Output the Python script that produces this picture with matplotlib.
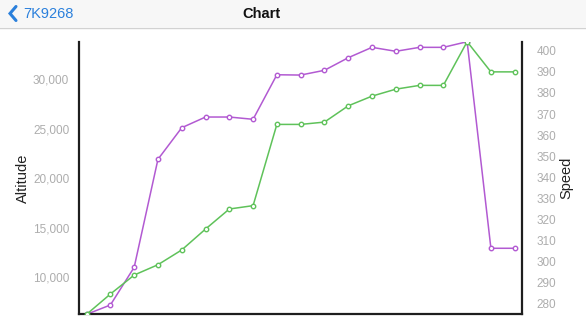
import matplotlib
matplotlib.use("Agg")
import matplotlib.pyplot as plt
from matplotlib.lines import Line2D
from matplotlib.patches import Rectangle
from matplotlib.ticker import StrMethodFormatter

plt.rcParams['font.family'] = ['Liberation Sans', 'DejaVu Sans']

# flight samples
samples = list(range(19))
altitude = [6260, 7200, 11010, 21920, 25110, 26190, 26190, 25960, 30460,
            30430, 30910, 32180, 33230, 32830, 33230, 33230, 33800, 12930,
            12930]
speed = [275.1, 284.7, 293.7, 298.6, 305.6, 315.5, 325.0, 326.6, 365.1,
         365.1, 366.2, 373.9, 378.5, 381.8, 383.6, 383.6, 404.3, 390.0,
         390.0]
alt_ticks = [10000, 15000, 20000, 25000, 30000]
speed_ticks = list(range(280, 401, 10))

purple = '#b25ad2'
green = '#5fc25a'
tick_grey = '#adadad'
ios_blue = '#2b80dc'

W, H = 586, 329
fig = plt.figure(figsize=(W / 100, H / 100), dpi=100)
fig.patch.set_facecolor('white')

# nav bar
fig.add_artist(Rectangle((0, 1 - 27 / H), 1, 27 / H, transform=fig.transFigure,
                         facecolor='#f7f7f7', edgecolor='none'))
fig.add_artist(Line2D([0, 1], [1 - 27.5 / H] * 2, transform=fig.transFigure,
                      color='#d2d2d2', lw=1))
fig.add_artist(Line2D([16 / W, 10 / W, 16 / W],
                      [1 - 6.5 / H, 1 - 13.5 / H, 1 - 20.5 / H],
                      transform=fig.transFigure, color=ios_blue, lw=2.2,
                      solid_capstyle='round', solid_joinstyle='miter'))
fig.text(23 / W, 1 - 13.5 / H, "7K9268", color=ios_blue, fontsize=10.5,
         ha='left', va='center')
fig.text(261 / W, 1 - 13.5 / H, "Chart", color='#111111', fontsize=10.5,
         fontweight='bold', ha='center', va='center')

ax = fig.add_axes([79 / W, (H - 314.3) / H, 443.3 / W, 272.6 / H])
ax2 = ax.twinx()

ax.plot(samples, altitude, color=purple, lw=1.1, marker='o', ms=3.2,
        mfc='white', mec=purple, mew=1)
ax2.plot(samples, speed, color=green, lw=1.1, marker='o', ms=3.2,
         mfc='white', mec=green, mew=1)

ax.set_xlim(-0.32, 18.32)
ax.set_ylim(min(altitude), max(altitude))
ax2.set_ylim(min(speed), max(speed))

ax.set_yticks(alt_ticks)
ax.yaxis.set_major_formatter(StrMethodFormatter('{x:,.0f}'))
ax2.set_yticks(speed_ticks)
ax.set_xticks([])

ax.tick_params(axis='y', length=0, pad=7, labelsize=8.5, labelcolor=tick_grey)
ax2.tick_params(axis='y', length=0, pad=10.5, labelsize=8.5,
                labelcolor=tick_grey)

ax.set_ylabel("Altitude", fontsize=10.5, color='#222222', labelpad=2)
ax2.set_ylabel("Speed", fontsize=10.5, color='#222222', labelpad=2,
               rotation=90)

for a in (ax, ax2):
    for side in ('top', 'left', 'right', 'bottom'):
        a.spines[side].set_visible(False)
ax.spines['left'].set_visible(True)
ax.spines['bottom'].set_visible(True)
ax2.spines['right'].set_visible(True)
for sp in (ax.spines['left'], ax.spines['bottom'], ax2.spines['right']):
    sp.set_linewidth(1.6)
    sp.set_color('#1e1e1e')

fig.savefig("out.png", dpi=100)
